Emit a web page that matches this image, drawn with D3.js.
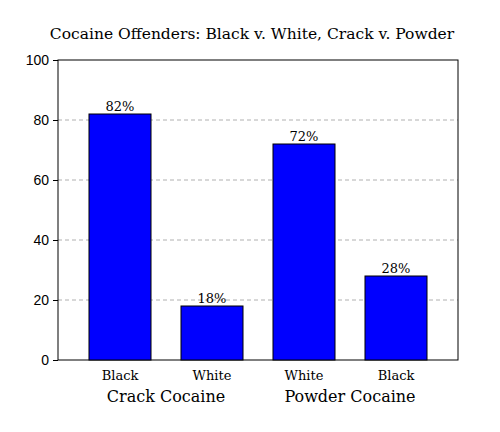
<!DOCTYPE html>
<html><head><meta charset="utf-8">
<script src="https://cdn.jsdelivr.net/npm/d3@7"></script>
<style>body{margin:0;background:#fff}</style></head>
<body><svg id="c" width="500" height="432"></svg>
<script>
const categories = ["Black","White","White","Black"];
const groups = ["Crack Cocaine","Powder Cocaine"];
const values = [82,18,72,28];
const yTicks = [0,20,40,60,80,100];

const svg = d3.select("#c");
const L=58,R=458,T=60,B=360;
const serif = "DejaVu Serif, serif";
const y = d3.scaleLinear().domain([0,100]).range([B,T]);
const x = d3.scaleBand().domain(d3.range(values.length)).range([74,442])
  .paddingInner(0.326).paddingOuter(0.163);

svg.append("text").attr("x",252).attr("y",39).attr("text-anchor","middle")
  .style("font-family",serif).style("font-size","15.5px").text("Cocaine Offenders: Black v. White, Crack v. Powder");

svg.selectAll(".g").data(yTicks.filter(d=>d>0&&d<100)).enter().append("line")
  .attr("x1",L).attr("x2",R).attr("y1",d=>y(d)).attr("y2",d=>y(d))
  .attr("stroke","#b0b0b0").attr("stroke-dasharray","4,3");

svg.append("rect").attr("x",L).attr("y",T).attr("width",R-L).attr("height",B-T)
  .attr("fill","none").attr("stroke","#000");

const ax = svg.append("g").attr("transform",`translate(${L},0)`)
  .call(d3.axisLeft(y).tickValues(yTicks).tickSize(5).tickPadding(4));
ax.select(".domain").remove();
ax.selectAll("text").style("font-family","Liberation Sans, Arial, sans-serif").style("font-size","14px");

svg.selectAll(".b").data(values).enter().append("rect")
  .attr("x",(d,i)=>x(i)).attr("width",x.bandwidth())
  .attr("y",d=>y(d)).attr("height",d=>B-y(d))
  .attr("fill","#0000ff").attr("stroke","#000").attr("stroke-width",1);

svg.selectAll(".v").data(values).enter().append("text")
  .attr("x",(d,i)=>x(i)+x.bandwidth()/2).attr("y",d=>y(d)-3).attr("text-anchor","middle")
  .style("font-family",serif).style("font-size","13px").text(d=>d+"%");

svg.selectAll(".c").data(categories).enter().append("text")
  .attr("x",(d,i)=>x(i)+x.bandwidth()/2).attr("y",380).attr("text-anchor","middle")
  .style("font-family",serif).style("font-size","13px").text(d=>d);

svg.selectAll(".gr").data(groups).enter().append("text")
  .attr("x",(d,i)=>(x(2*i)+x(2*i+1)+x.bandwidth())/2).attr("y",402).attr("text-anchor","middle")
  .style("font-family",serif).style("font-size","16px").text(d=>d);
</script></body></html>
